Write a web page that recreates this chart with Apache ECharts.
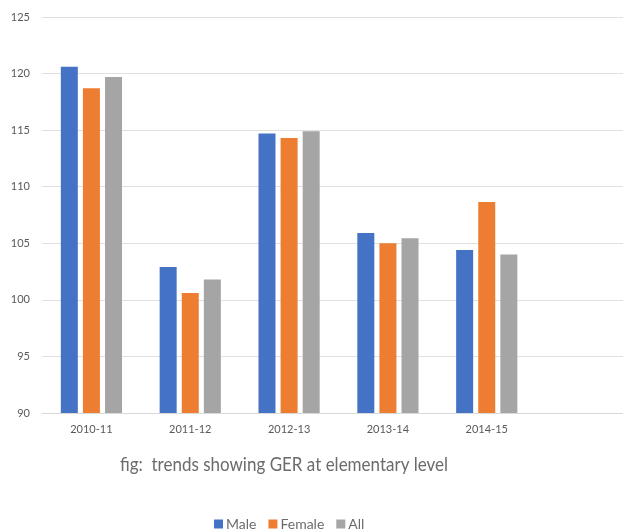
<!DOCTYPE html>
<html>
<head>
<meta charset="utf-8">
<script src="https://cdn.jsdelivr.net/npm/echarts@6/dist/echarts.min.js"></script>
<style>
html,body{margin:0;padding:0;background:#fff;}
#c{width:623px;height:529px;}
</style>
</head>
<body>
<div id="c"></div>
<script>
const categories = ['2010-11', '2011-12', '2012-13', '2013-14', '2014-15', ''];
const male = [120.6, 102.9, 114.7, 105.9, 104.4, null];
const female = [118.7, 100.6, 114.3, 105.0, 108.65, null];
const all = [119.7, 101.8, 114.9, 105.45, 104.0, null];
const seriesNames = ['Male', 'Female', 'All'];
const caption = 'fig:  trends showing GER at elementary level';

const chart = echarts.init(document.getElementById('c'));
const font = 'Lato, "Open Sans", sans-serif';
const colors = ['#4472C4', '#ED7D31', '#A5A5A5'];
chart.setOption({
  animation: false,
  color: colors,
  textStyle: { fontFamily: font },
  graphic: [{
    type: 'text',
    left: 120, top: 455,
    scaleX: 0.85,
    style: { text: caption, font: '20px Lato, "Open Sans", sans-serif', fill: '#6b6b6b' }
  }],
  legend: {
    data: seriesNames,
    left: 209, top: 512,
    itemWidth: 9, itemHeight: 9, itemGap: 12,
    icon: 'rect',
    textStyle: { fontFamily: font, fontSize: 14, color: '#6b6b6b', padding: [0, 0, 0, -2] }
  },
  grid: { left: 42, width: 593, top: 17, bottom: 116, containLabel: false, outerBoundsMode: 'none' },
  xAxis: {
    type: 'category',
    data: categories,
    axisLine: { lineStyle: { color: '#d9d9d9' } },
    axisTick: { show: false },
    axisLabel: { color: '#595959', fontSize: 11, margin: 11 }
  },
  yAxis: {
    type: 'value',
    min: 90, max: 125, interval: 5,
    axisLine: { show: false },
    axisTick: { show: false },
    splitLine: { lineStyle: { color: '#e0e0e0' } },
    axisLabel: { color: '#595959', fontSize: 11, margin: 12 }
  },
  series: [
    { name: seriesNames[0], type: 'bar', data: male, barWidth: 17, barGap: '30%' },
    { name: seriesNames[1], type: 'bar', data: female, barWidth: 17, barGap: '30%' },
    { name: seriesNames[2], type: 'bar', data: all, barWidth: 17, barGap: '30%' }
  ]
});
</script>
</body>
</html>
